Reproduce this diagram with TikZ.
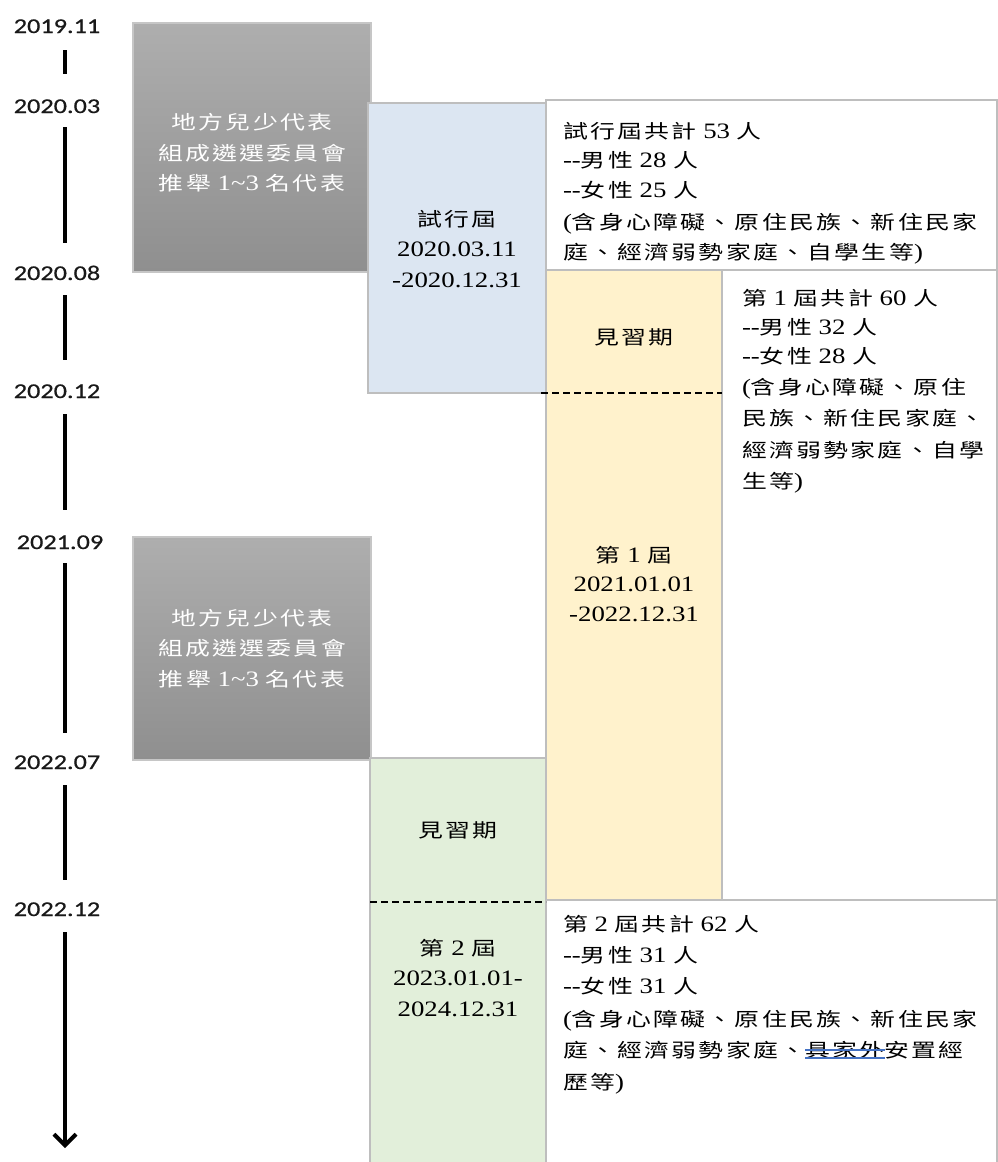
\documentclass[tikz,border=0pt]{standalone}
\usepackage{fontspec}
\setmainfont{Liberation Serif}[FakeStretch=1.22]
\newfontfamily\cjk{Noto Sans CJK TC}[FakeStretch=1.3,Scale=0.87,LetterSpace=12]
\newfontfamily\datefont{Carlito}[FakeStretch=1.25,FakeBold=0.6]
\usetikzlibrary{arrows.meta}
\definecolor{gtop}{RGB}{174,174,174}
\definecolor{gbot}{RGB}{143,143,143}
\definecolor{edgegray}{RGB}{190,190,190}
\definecolor{blueF}{RGB}{220,230,242}
\definecolor{yelF}{RGB}{255,242,204}
\definecolor{grnF}{RGB}{226,239,218}
\definecolor{markblue}{RGB}{68,114,196}
\tikzset{
  panel/.style={draw=edgegray, line width=1.5pt, inner sep=0pt, outer sep=0pt},
  graypanel/.style={panel, draw=gray!45, top color=gtop, bottom color=gbot},
  ln/.style={anchor=west, inner sep=0pt, outer sep=0pt, text height=16pt, text depth=1pt, font=\fontsize{22}{26}\selectfont},
  lc/.style={ln, anchor=center},
  wl/.style={lc, text=white},
  datelabel/.style={inner sep=0pt, font=\datefont\fontsize{21}{24}\selectfont, text height=14pt, text depth=0pt, text=black!90},
  bar/.style={line width=4pt, black},
  dashline/.style={black, line width=1.3pt, dash pattern=on 7pt off 4pt},
  markline/.style={markblue, line width=1.5pt}
}
\begin{document}
\begin{tikzpicture}[x=1pt,y=-1pt]
\useasboundingbox (0,0) rectangle (998,1162);
\fill[white] (0,0) rectangle (998,1162);

% ---- panels ----
\node[graypanel, minimum width=238pt, minimum height=249pt] (g1) at (252,147.5) {};
\node[graypanel, minimum width=238pt, minimum height=223pt] (g2) at (252,648.5) {};
\node[panel, fill=white, minimum width=451pt, minimum height=170pt] (trialtext) at (771.5,185) {};
\node[panel, fill=blueF, minimum width=178pt, minimum height=290pt] (trial) at (457,248) {};
\node[panel, fill=white, minimum width=275pt, minimum height=630pt] (t1text) at (859.5,585) {};
\node[panel, fill=yelF, minimum width=176pt, minimum height=630pt] (t1) at (634,585) {};
\node[panel, fill=white, minimum width=451pt, minimum height=270pt] (t2text) at (771.5,1035) {};
\node[panel, fill=grnF, minimum width=176pt, minimum height=412pt] (t2) at (458,964) {};

% ---- dashed separators ----
\coordinate (ydash) at (0,393);
\coordinate (gdash) at (0,902);
\draw[dashline] ([xshift=-5pt]t1.west |- ydash) -- (t1.east |- ydash);
\draw[dashline] (t2.west |- gdash) -- (t2.east |- gdash);

% ---- timeline ----
\node[datelabel] (d1) at (57,26) {2019.11};
\node[datelabel] (d2) at (57,106) {2020.03};
\node[datelabel] (d3) at (57,273) {2020.08};
\node[datelabel] (d4) at (57,391) {2020.12};
\node[datelabel] (d5) at (60,542) {2021.09};
\node[datelabel] (d6) at (57,762) {2022.07};
\node[datelabel] (d7) at (57,909) {2022.12};
\coordinate (b1s) at (65,50);   \coordinate (b1e) at (65,74);
\coordinate (b2s) at (65,127);  \coordinate (b2e) at (65,243);
\coordinate (b3s) at (65,295);  \coordinate (b3e) at (65,360);
\coordinate (b4s) at (65,414);  \coordinate (b4e) at (65,510);
\coordinate (b5s) at (65,563);  \coordinate (b5e) at (65,733);
\coordinate (b6s) at (65,785);  \coordinate (b6e) at (65,880);
\coordinate (b7s) at (65,932);  \coordinate (b7e) at (65,1148);
\draw[bar] (b1s) -- (b1e);
\draw[bar] (b2s) -- (b2e);
\draw[bar] (b3s) -- (b3e);
\draw[bar] (b4s) -- (b4e);
\draw[bar] (b5s) -- (b5e);
\draw[bar] (b6s) -- (b6e);
\draw[bar, -{Straight Barb[length=11pt,width=22pt]}] (b7s) -- (b7e);

% ---- gray boxes text ----
\node[wl] (g1a) at (252,122) {\cjk 地方兒少代表};
\node[wl] (g1b) at (252,153) {\cjk 組成遴選委員會};
\node[wl] (g1c) at (252,183) {{\cjk 推舉} 1\textasciitilde 3 {\cjk 名代表}};
\node[wl] (g2a) at (252,618) {\cjk 地方兒少代表};
\node[wl] (g2b) at (252,648) {\cjk 組成遴選委員會};
\node[wl] (g2c) at (252,679) {{\cjk 推舉} 1\textasciitilde 3 {\cjk 名代表}};

% ---- trial term ----
\node[lc] (tra) at (457,219) {\cjk 試行屆};
\node[lc] (trb) at (457,249) {2020.03.11};
\node[lc] (trc) at (457,280) {-2020.12.31};
\node[ln] (tta) at (563,131) {{\cjk 試行屆共計} 53 {\cjk 人}};
\node[ln] (ttb) at (563,160) {-{}-{\cjk 男性} 28 {\cjk 人}};
\node[ln] (ttc) at (563,190) {-{}-{\cjk 女性} 25 {\cjk 人}};
\node[ln] (ttd) at (563,222) {({\cjk 含身心障礙、原住民族、新住民家}};
\node[ln] (tte) at (563,252) {{\cjk 庭、經濟弱勢家庭、自學生等})};

% ---- term 1 ----
\node[lc] (y1) at (634,337) {\cjk 見習期};
\node[lc] (y2) at (634,555) {{\cjk 第} 1 {\cjk 屆}};
\node[lc] (y3) at (634,584) {2021.01.01};
\node[lc] (y4) at (634,614) {-2022.12.31};
\node[ln] (o1) at (742,298) {{\cjk 第} 1 {\cjk 屆共計} 60 {\cjk 人}};
\node[ln] (o2) at (742,327) {-{}-{\cjk 男性} 32 {\cjk 人}};
\node[ln] (o3) at (742,356) {-{}-{\cjk 女性} 28 {\cjk 人}};
\node[ln] (o4) at (742,387) {({\cjk 含身心障礙、原住}};
\node[ln] (o5) at (742,418) {\cjk 民族、新住民家庭、};
\node[ln] (o6) at (742,450) {\cjk 經濟弱勢家庭、自學};
\node[ln] (o7) at (742,481) {{\cjk 生等})};

% ---- term 2 ----
\node[lc] (n1) at (458,830) {\cjk 見習期};
\node[lc] (n2) at (458,948) {{\cjk 第} 2 {\cjk 屆}};
\node[lc] (n3) at (458,978) {2023.01.01-};
\node[lc] (n4) at (458,1009) {2024.12.31};
\node[ln] (s1) at (563,924) {{\cjk 第} 2 {\cjk 屆共計} 62 {\cjk 人}};
\node[ln] (s2) at (563,955) {-{}-{\cjk 男性} 31 {\cjk 人}};
\node[ln] (s3) at (563,986) {-{}-{\cjk 女性} 31 {\cjk 人}};
\node[ln] (s4) at (563,1019) {({\cjk 含身心障礙、原住民族、新住民家}};
\node[ln] (s5a) at (563,1050) {\cjk 庭、經濟弱勢家庭、};
\node[ln] (s5b) at (s5a.east) {\cjk 具家外};
\node[ln] (s5c) at (s5b.east) {\cjk 安置經};
\node[ln] (s6) at (563,1082) {{\cjk 歷等})};
\draw[markline] (s5b.west) -- (s5b.east);
\draw[markline] ([yshift=-8pt]s5b.west) -- ([yshift=-8pt]s5b.east);
\end{tikzpicture}
\end{document}
